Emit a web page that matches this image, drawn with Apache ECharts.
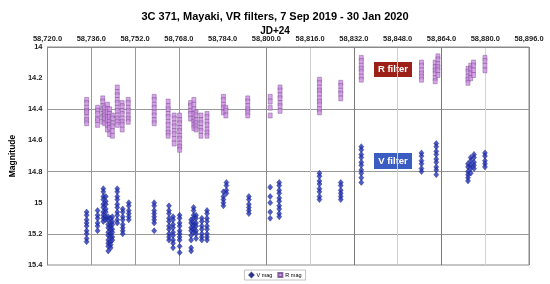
<!DOCTYPE html>
<html>
<head>
<meta charset="utf-8">
<script src="https://cdn.jsdelivr.net/npm/echarts@6/dist/echarts.min.js"></script>
<style>
  html, body { margin: 0; padding: 0; background: #fff; }
  #chart { width: 550px; height: 284px; }
</style>
</head>
<body>
<div id="chart"></div>
<script>
// JD ticks along the top axis
const jdTicks = [58720, 58736, 58752, 58768, 58784, 58800, 58816, 58832, 58848, 58864, 58880, 58896];
const magTicks = [14, 14.2, 14.4, 14.6, 14.8, 15, 15.2, 15.4];

// R filter nights (JD) and the magnitudes read on each night
const rNights = [58734.3, 58738.3, 58740.2, 58740.9, 58741.9, 58742.7, 58743.7, 58745.5, 58747.3, 58749.5,
  58759.0, 58764.1, 58766.3, 58768.3, 58772.3, 58773.5, 58774.3, 58776.1, 58778.3, 58784.3,
  58785.2, 58793.2, 58801.4, 58805.0, 58819.4, 58827.2, 58834.7, 58856.7, 58861.7, 58862.7,
  58873.7, 58874.7, 58875.7, 58879.9];
const rMags = [
  [14.34, 14.36, 14.39, 14.41, 14.42, 14.45, 14.47, 14.49],
  [14.39, 14.41, 14.43, 14.46, 14.47, 14.50],
  [14.33, 14.35, 14.38, 14.40, 14.43, 14.45, 14.48],
  [14.39, 14.42, 14.44, 14.46, 14.49],
  [14.37, 14.40, 14.42, 14.45, 14.47, 14.50, 14.53],
  [14.40, 14.43, 14.45, 14.48, 14.50, 14.52, 14.56],
  [14.44, 14.46, 14.49, 14.51, 14.54, 14.57],
  [14.26, 14.29, 14.31, 14.34, 14.36, 14.39, 14.41, 14.44, 14.46, 14.48, 14.50],
  [14.36, 14.38, 14.41, 14.43, 14.46, 14.48, 14.50, 14.53],
  [14.34, 14.36, 14.39, 14.41, 14.44, 14.46, 14.48],
  [14.32, 14.34, 14.37, 14.39, 14.42, 14.44, 14.47, 14.49],
  [14.35, 14.38, 14.40, 14.43, 14.45, 14.48, 14.50, 14.53, 14.55, 14.57],
  [14.44, 14.46, 14.49, 14.51, 14.54, 14.56, 14.59, 14.62],
  [14.44, 14.47, 14.49, 14.52, 14.54, 14.57, 14.59, 14.62, 14.64, 14.66],
  [14.36, 14.38, 14.41, 14.43, 14.46],
  [14.34, 14.37, 14.40, 14.43, 14.46, 14.48, 14.50, 14.52],
  [14.42, 14.44, 14.47, 14.49, 14.51, 14.53],
  [14.44, 14.47, 14.49, 14.52, 14.54, 14.57],
  [14.43, 14.45, 14.48, 14.50, 14.53, 14.55, 14.57],
  [14.32, 14.34, 14.37, 14.39, 14.42],
  [14.39, 14.41, 14.44],
  [14.33, 14.35, 14.38, 14.40, 14.42, 14.44],
  [14.32, 14.35, 14.39, 14.44],
  [14.26, 14.28, 14.31, 14.33, 14.36, 14.38, 14.41],
  [14.21, 14.23, 14.26, 14.28, 14.30, 14.33, 14.35, 14.37, 14.40, 14.42],
  [14.23, 14.25, 14.28, 14.30, 14.33],
  [14.07, 14.09, 14.12, 14.14, 14.16, 14.19, 14.21],
  [14.10, 14.12, 14.15, 14.17, 14.19, 14.21],
  [14.10, 14.13, 14.15, 14.17, 14.20, 14.22],
  [14.06, 14.08, 14.11, 14.13, 14.15, 14.18],
  [14.14, 14.16, 14.19, 14.21, 14.23],
  [14.12, 14.14, 14.17, 14.20],
  [14.10, 14.12, 14.15, 14.18],
  [14.07, 14.09, 14.12, 14.15],
];

// V filter nights (JD) and magnitudes
const vNights = [58734.3, 58738.3, 58740.4, 58741.3, 58742.2, 58743.1, 58743.7, 58745.5, 58747.5, 58749.7,
  58759.0, 58764.4, 58765.9, 58768.3, 58772.5, 58773.4, 58774.3, 58776.4, 58778.3, 58784.3,
  58785.4, 58793.6, 58801.4, 58804.7, 58819.4, 58827.2, 58834.7, 58856.7, 58862.1, 58873.7,
  58874.7, 58875.9, 58879.9];
const vMags = [
  [15.06, 15.08, 15.11, 15.13, 15.15, 15.18, 15.20, 15.23, 15.25],
  [15.05, 15.08, 15.10, 15.13, 15.15, 15.18],
  [14.91, 14.93, 14.96, 14.98, 15.01, 15.03, 15.06, 15.08, 15.10, 15.12],
  [14.96, 14.99, 15.01, 15.04, 15.06, 15.09, 15.11],
  [15.09, 15.11, 15.14, 15.16, 15.19, 15.21, 15.24, 15.26, 15.28, 15.31],
  [15.10, 15.13, 15.15, 15.17, 15.20, 15.22, 15.25, 15.27, 15.29],
  [15.09, 15.12, 15.14, 15.17, 15.19, 15.22, 15.24],
  [14.91, 14.93, 14.96, 14.98, 15.01, 15.03, 15.06, 15.08, 15.11, 15.13],
  [15.04, 15.06, 15.09, 15.11, 15.14, 15.16, 15.18, 15.20],
  [15.00, 15.02, 15.05, 15.07, 15.09, 15.11],
  [15.00, 15.02, 15.05, 15.07, 15.09, 15.11, 15.13, 15.18],
  [15.02, 15.05, 15.07, 15.10, 15.12, 15.15, 15.17, 15.20, 15.22, 15.24],
  [15.09, 15.11, 15.14, 15.16, 15.19, 15.21, 15.24, 15.26, 15.29],
  [15.08, 15.10, 15.13, 15.15, 15.18, 15.20, 15.22, 15.24, 15.28, 15.32],
  [15.11, 15.13, 15.16, 15.18, 15.21, 15.24, 15.29, 15.31],
  [15.03, 15.05, 15.08, 15.10, 15.13, 15.15, 15.17, 15.19],
  [15.08, 15.10, 15.13, 15.15, 15.18, 15.20, 15.23],
  [15.10, 15.12, 15.15, 15.17, 15.20, 15.22, 15.24],
  [15.05, 15.07, 15.10, 15.12, 15.15, 15.17, 15.20, 15.22, 15.24],
  [14.93, 14.96, 14.98, 15.00, 15.02],
  [14.87, 14.89, 14.92, 14.94],
  [14.96, 14.98, 15.01, 15.03, 15.05, 15.07],
  [14.90, 14.96, 15.00, 15.06, 15.10],
  [14.87, 14.89, 14.92, 14.94, 14.97, 14.99, 15.02, 15.04, 15.07, 15.09],
  [14.81, 14.83, 14.86, 14.88, 14.91, 14.93, 14.96, 14.98],
  [14.87, 14.89, 14.92, 14.94, 14.96, 14.98],
  [14.64, 14.66, 14.69, 14.71, 14.74, 14.76, 14.79, 14.81, 14.84, 14.87],
  [14.68, 14.70, 14.73, 14.75, 14.78, 14.80],
  [14.62, 14.64, 14.67, 14.69, 14.72, 14.74, 14.77, 14.79, 14.82],
  [14.75, 14.77, 14.80, 14.82, 14.84, 14.86],
  [14.71, 14.73, 14.76, 14.78, 14.81],
  [14.69, 14.71, 14.74, 14.76, 14.78],
  [14.68, 14.70, 14.73, 14.75, 14.77],
];

const toPoints = (nights, mags) => nights.flatMap((jd, i) => mags[i].map((m) => [jd, m]));

const fmtJd = (v) => {
  const s = Math.round(v).toString();
  return `${s.slice(0, s.length - 3)},${s.slice(-3)}.0`;
};

const font = 'Liberation Sans, Arial, sans-serif';

const chart = echarts.init(document.getElementById('chart'), null, { renderer: 'canvas' });
chart.setOption({
  animation: false,
  backgroundColor: '#fff',
  title: [
    {
      text: '3C 371, Mayaki, VR filters, 7 Sep 2019 - 30 Jan 2020',
      left: 'center',
      top: 6,
      textStyle: { fontFamily: font, fontSize: 11, fontWeight: 'bold', color: '#000' },
    },
    {
      text: 'JD+24',
      left: 'center',
      top: 21,
      textStyle: { fontFamily: font, fontSize: 10, fontWeight: 'bold', color: '#000' },
    },
  ],
  grid: {
    left: 41, right: 21, top: 47, bottom: 19,
    show: true, borderColor: '#8a8a8a', borderWidth: 1,
  },
  legend: {
    bottom: 4,
    left: 'center',
    itemWidth: 4,
    itemHeight: 4,
    itemGap: 5,
    padding: [2, 4],
    borderColor: '#9a9a9a',
    borderWidth: 0.6,
    textStyle: { fontFamily: font, fontSize: 5.5, color: '#000', padding: [0, 0, 0, -2] },
    data: ['V mag', 'R mag'],
  },
  xAxis: {
    type: 'value',
    position: 'top',
    min: jdTicks[0],
    max: jdTicks[jdTicks.length - 1],
    interval: 16,
    axisLine: { show: true, lineStyle: { color: '#8a8a8a' } },
    axisTick: { show: false },
    axisLabel: {
      fontFamily: font, fontSize: 7.5, fontWeight: 'bold', color: '#222', margin: 4,
      formatter: fmtJd,
    },
    splitLine: {
      show: true,
      lineStyle: {
        width: 1,
        color: ['#8a8a8a', '#9a9a9a', '#9a9a9a', '#9a9a9a', 'rgba(0,0,0,0)', '#8a8a8a',
          '#cfcfcf', '#7a7a7a', '#cfcfcf', '#7a7a7a', '#d5d5d5', '#8a8a8a'],
      },
    },
  },
  yAxis: {
    type: 'value',
    inverse: true,
    min: magTicks[0],
    max: magTicks[magTicks.length - 1],
    interval: 0.2,
    name: 'Magnitude',
    nameLocation: 'middle',
    nameGap: 25,
    nameTextStyle: { fontFamily: font, fontSize: 8.5, fontWeight: 'bold', color: '#000' },
    axisLine: { show: true, lineStyle: { color: '#8a8a8a' } },
    axisTick: { show: false },
    axisLabel: {
      fontFamily: font, fontSize: 7.5, fontWeight: 'bold', color: '#222', margin: 5,
      formatter: (v) => String(Math.round(v * 10) / 10),
    },
    splitLine: { show: true, lineStyle: { color: ['#9a9a9a', 'rgba(0,0,0,0)'] } },
  },
  series: [
    {
      name: 'V mag',
      type: 'scatter',
      symbol: 'diamond',
      symbolSize: [5, 6],
      itemStyle: { color: '#2434bc', borderColor: '#141c70', borderWidth: 0.5 },
      data: toPoints(vNights, vMags),
    },
    {
      name: 'R mag',
      type: 'scatter',
      symbol: 'rect',
      symbolSize: [4, 5],
      itemStyle: { color: '#cf8ee2', borderColor: '#6a4488', borderWidth: 0.5 },
      data: toPoints(rNights, rMags),
    },
  ],
  graphic: [
    {
      type: 'group',
      left: 374,
      top: 62,
      children: [
        { type: 'rect', shape: { x: 0, y: 0, width: 38, height: 15 }, style: { fill: '#9c2018' } },
        {
          type: 'text', x: 19, y: 7.5,
          style: { text: 'R filter', fill: '#fff', font: `bold 9.5px ${font}`, align: 'center', verticalAlign: 'middle' },
        },
      ],
    },
    {
      type: 'group',
      left: 374,
      top: 153,
      children: [
        { type: 'rect', shape: { x: 0, y: 0, width: 38, height: 16 }, style: { fill: '#3b5cc0' } },
        {
          type: 'text', x: 19, y: 8,
          style: { text: 'V filter', fill: '#fff', font: `bold 9.5px ${font}`, align: 'center', verticalAlign: 'middle' },
        },
      ],
    },
  ],
});
</script>
</body>
</html>
